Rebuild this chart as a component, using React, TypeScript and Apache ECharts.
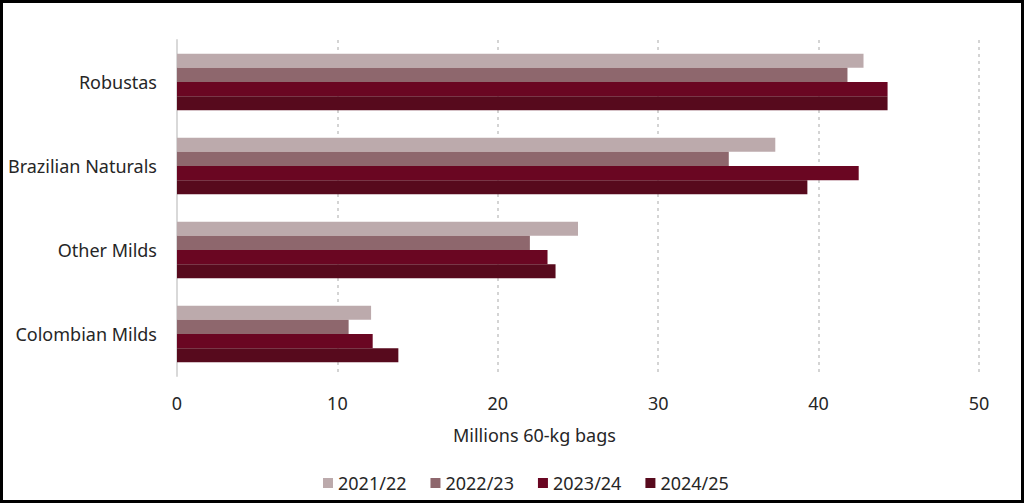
import React, { useEffect, useRef } from "react";
import * as echarts from "echarts";

const categories = ["Robustas", "Brazilian Naturals", "Other Milds", "Colombian Milds"];
const seriesNames = ["2021/22", "2022/23", "2023/24", "2024/25"];
const s2021 = [42.8, 37.3, 25.0, 12.1];
const s2022 = [41.8, 34.4, 22.0, 10.7];
const s2023 = [44.3, 42.5, 23.1, 12.2];
const s2024 = [44.3, 39.3, 23.6, 13.8];
const colors = ["#bcaaac", "#8e676d", "#6a0622", "#570a1d"];
const xTicks = [0, 10, 20, 30, 40, 50];

const FONT = "Noto Sans";
const FS = 18;

export default function App() {
  const ref = useRef<HTMLDivElement>(null);
  useEffect(() => {
    document.body.style.margin = "0";
    const chart = echarts.init(ref.current!, null, { renderer: "svg" });
    const data = [s2021, s2022, s2023, s2024];
    chart.setOption({
      animation: false,
      textStyle: { fontFamily: FONT },
      grid: { left: 177, right: 45, top: 40, bottom: 127, containLabel: false },
      legend: {
        data: seriesNames,
        left: 318,
        top: 469,
        icon: "rect",
        itemWidth: 10,
        itemHeight: 10,
        itemGap: 24,
        textStyle: { fontSize: FS, color: "#262626", fontFamily: FONT },
      },
      xAxis: {
        type: "value",
        min: xTicks[0],
        max: xTicks[xTicks.length - 1],
        interval: 10,
        axisLine: { show: false },
        axisTick: { show: false },
        axisLabel: { fontSize: FS, color: "#262626", margin: 18, fontFamily: FONT },
        splitLine: {
          show: true,
          lineStyle: { color: "#d4d4d4", width: 2, type: [3, 4] },
        },
      },
      yAxis: {
        type: "category",
        data: categories,
        inverse: true,
        axisLine: { show: true, lineStyle: { color: "#d9d9d9", width: 2 } },
        axisTick: { show: false },
        axisLabel: { fontSize: FS, color: "#262626", margin: 20, fontFamily: FONT },
      },
      series: seriesNames.map((name, i) => ({
        name,
        type: "bar",
        data: data[i],
        itemStyle: { color: colors[i] },
        barGap: "0%",
        barCategoryGap: "32.5%",
      })),
      graphic: [
        {
          type: "text",
          left: 453,
          top: 426,
          style: { text: "Millions 60-kg bags", fontSize: FS, fill: "#262626", fontFamily: FONT },
        },
        {
          type: "rect",
          shape: { x: 1.5, y: 1.5, width: 1021, height: 500 },
          style: { fill: "none", stroke: "#000", lineWidth: 3 },
          silent: true,
        },
      ],
    });
    return () => chart.dispose();
  }, []);
  return <div ref={ref} style={{ width: 1024, height: 503 }} />;
}
